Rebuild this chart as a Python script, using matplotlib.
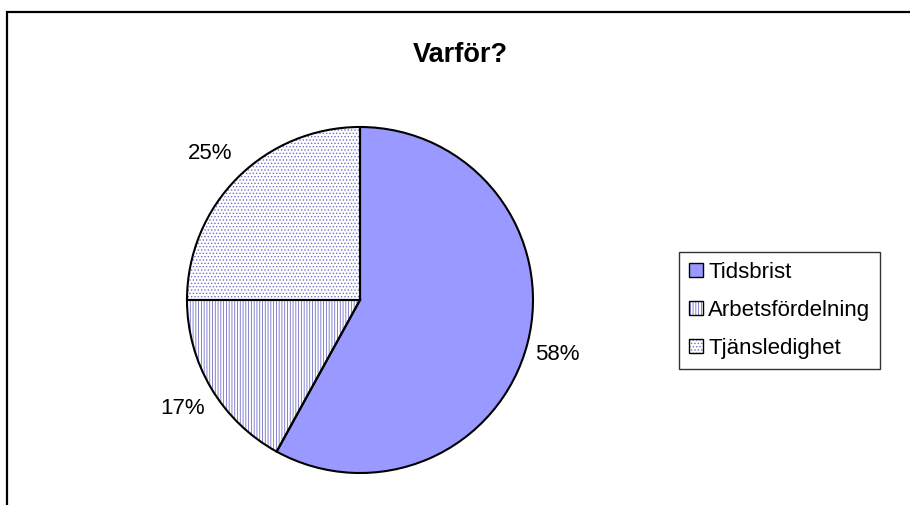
import numpy as np
import matplotlib
matplotlib.use("Agg")
import matplotlib.pyplot as plt
from matplotlib.patches import Patch, Rectangle
from matplotlib.legend_handler import HandlerTuple

plt.rcParams['font.family'] = ['Liberation Sans', 'DejaVu Sans']
plt.rcParams['hatch.linewidth'] = 0.6

# data
labels = ["Tidsbrist", "Arbetsfördelning", "Tjänsledighet"]
values = [58, 17, 25]
pct_text = ["58%", "17%", "25%"]
label_dist = [1.18, 1.19, 1.225]

faces = ["#9999FF", "white", "white"]
hatches = [None, "||||||", "....."]
hatch_col = "#6F6FC8"

fig = plt.figure(figsize=(9.1, 5.05), dpi=100)

# pie centre (360, 300) px from top, radius 173 px
W, H = 910, 505
cx, cy, r = 360, H - 300, 173
half = 1.25 * r
ax = fig.add_axes([(cx - half) / W, (cy - half) / H, 2 * half / W, 2 * half / H])

# hatched layer (hatch colour = edge colour), then black outlines on top
w1, _ = ax.pie(values, colors=faces, startangle=90, counterclock=False,
               wedgeprops=dict(edgecolor=hatch_col, linewidth=0))
for w, h in zip(w1, hatches):
    if h:
        w.set_hatch(h)
w2, _ = ax.pie(values, startangle=90, counterclock=False,
               wedgeprops=dict(fill=False, edgecolor="black", linewidth=1.5))

# percentage labels outside the slices
for w, s, d in zip(w2, pct_text, label_dist):
    ang = np.deg2rad((w.theta1 + w.theta2) / 2)
    ax.text(d * np.cos(ang), d * np.sin(ang) - 0.02, s, ha="center", va="center", fontsize=16)

ax.set_xlim(-1.25, 1.25)
ax.set_ylim(-1.25, 1.25)
ax.set_aspect("equal")

# title
fig.text(460 / W, 1 - 55 / H, "Varför?", ha="center", va="center",
         fontsize=19.5, fontweight="bold")

# legend
handles = []
for f, h in zip(faces, hatches):
    a = Patch(facecolor=f, edgecolor=hatch_col, linewidth=0, hatch=h)
    b = Patch(fill=False, edgecolor="black", linewidth=1)
    handles.append((a, b))
leg = fig.legend(handles, labels, handler_map={tuple: HandlerTuple(ndivide=1, pad=0)},
                 loc="upper left", bbox_to_anchor=(679 / W, 1 - 252 / H),
                 borderaxespad=0, fontsize=16, handlelength=0.6, handleheight=0.6,
                 handletextpad=0.25, labelspacing=0.76, borderpad=0.46,
                 fancybox=False, frameon=True)
leg.get_frame().set_edgecolor("black")
leg.get_frame().set_linewidth(1.0)

# outer chart frame (open to right and bottom)
fig.add_artist(Rectangle((7 / W, -0.1), 2, 1.1 - 12 / H, transform=fig.transFigure,
                         fill=False, edgecolor="black", linewidth=1.6))

fig.savefig("out.png", dpi=100)
